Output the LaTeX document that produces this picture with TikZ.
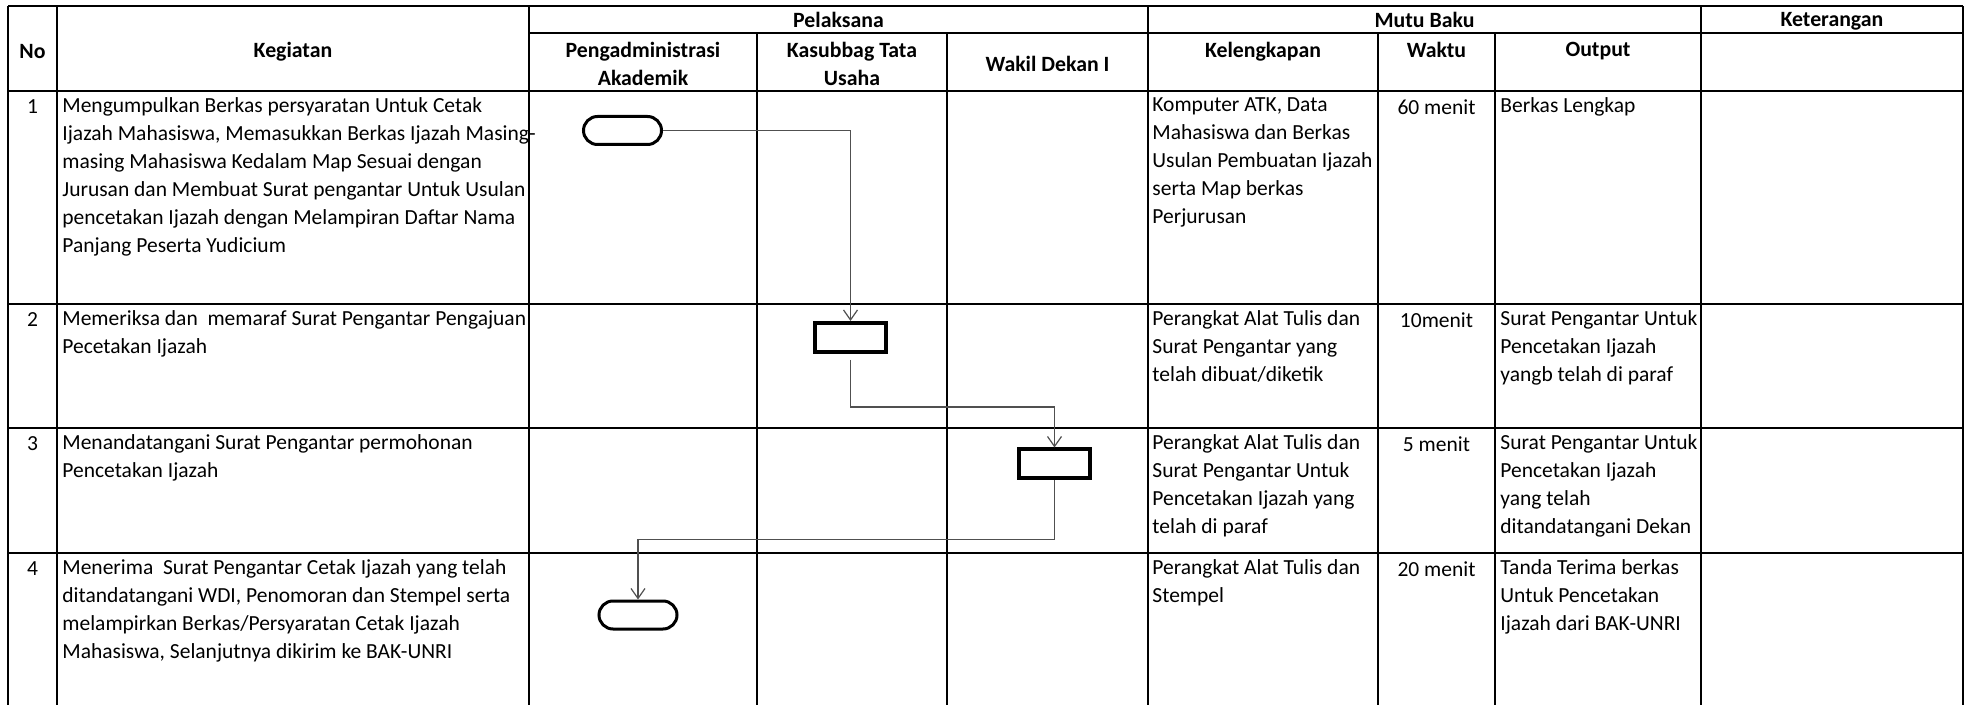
\documentclass[tikz,border=0pt]{standalone}
\usepackage{fontspec}
\setmainfont{Carlito}
\usetikzlibrary{arrows.meta,shapes.misc,positioning}
\definecolor{flowgray}{RGB}{80,80,80}

\begin{document}
\begin{tikzpicture}[
    x=0.5pt, y=-0.5pt,
    grid/.style={line width=1.3pt, black},
    head/.style={font=\fontsize{10.9}{14}\selectfont\bfseries, align=center, inner sep=0pt, anchor=north},
    cell/.style={font=\fontsize{10.75}{14}\selectfont, align=left, inner sep=0pt, anchor=north west},
    num/.style={font=\fontsize{10.75}{14}\selectfont, inner sep=0pt, anchor=north},
    term/.style={rounded rectangle, draw, line width=1.5pt, minimum width=39pt, minimum height=14pt, inner sep=0pt},
    proc/.style={rectangle, draw, line width=2pt, minimum width=35.5pt, minimum height=14.5pt, inner sep=0pt},
    flow/.style={draw=flowgray, line width=0.6pt, -{Straight Barb[length=5pt,width=7pt]}}
]
\useasboundingbox (0,0) rectangle (1971,705);

% Table grid
\foreach \x in {8,57,529,1148,1701,1963} \draw[grid] (\x,6) -- (\x,705);
\foreach \x in {757,947,1378,1495} \draw[grid] (\x,33) -- (\x,705);
\draw[grid] (8,6) -- (1963,6);
\draw[grid] (529,33) -- (1963,33);
\foreach \y in {91,304,428,553} \draw[grid] (8,\y) -- (1963,\y);

% Header
\node[head] (hPelaksana) at (838.5,12) {Pelaksana};
\node[head] (hMutu) at (1424.5,12) {Mutu Baku};
\node[head] (hKet) at (1832,12) {Keterangan};
\node[head] (hNo) at (32.5,44) {No};
\node[head] (hKeg) at (293,42) {Kegiatan};
\node[head] (hAdm) at (643,42) {Pengadministrasi\\Akademik};
\node[head] (hKasub) at (852,42) {Kasubbag Tata\\Usaha};
\node[head] (hWd) at (1047.5,56) {Wakil Dekan I};
\node[head] (hLengkap) at (1263,42) {Kelengkapan};
\node[head] (hWaktu) at (1436.5,42) {Waktu};
\node[head] (hOut) at (1598,42) {Output};

% Row 1
\node[num] (no1) at (32.5,99) {1};
\node[cell] (keg1) at (62,97) {Mengumpulkan Berkas persyaratan Untuk Cetak\\Ijazah Mahasiswa, Memasukkan Berkas Ijazah Masing-\\masing Mahasiswa Kedalam Map Sesuai dengan\\Jurusan dan Membuat Surat pengantar Untuk Usulan\\pencetakan Ijazah dengan Melampiran Daftar Nama\\Panjang Peserta Yudicium};
\node[cell] (lengkap1) at (1152,97) {Komputer ATK, Data\\Mahasiswa dan Berkas\\Usulan Pembuatan Ijazah\\serta Map berkas\\Perjurusan};
\node[num] (waktu1) at (1436.5,99) {60 menit};
\node[cell] (out1) at (1500,97) {Berkas Lengkap};

% Row 2
\node[num] (no2) at (32.5,312) {2};
\node[cell] (keg2) at (62,310) {Memeriksa dan\ \ memaraf Surat Pengantar Pengajuan\\Pecetakan Ijazah};
\node[cell] (lengkap2) at (1152,310) {Perangkat Alat Tulis dan\\Surat Pengantar yang\\telah dibuat/diketik};
\node[num] (waktu2) at (1436.5,312) {10menit};
\node[cell] (out2) at (1500,310) {Surat Pengantar Untuk\\Pencetakan Ijazah\\yangb telah di paraf};

% Row 3
\node[num] (no3) at (32.5,436) {3};
\node[cell] (keg3) at (62,434) {Menandatangani Surat Pengantar permohonan\\Pencetakan Ijazah};
\node[cell] (lengkap3) at (1152,434) {Perangkat Alat Tulis dan\\Surat Pengantar Untuk\\Pencetakan Ijazah yang\\telah di paraf};
\node[num] (waktu3) at (1436.5,436) {5 menit};
\node[cell] (out3) at (1500,434) {Surat Pengantar Untuk\\Pencetakan Ijazah\\yang telah\\ditandatangani Dekan};

% Row 4
\node[num] (no4) at (32.5,561) {4};
\node[cell] (keg4) at (62,559) {Menerima\ \ Surat Pengantar Cetak Ijazah yang telah\\ditandatangani WDI, Penomoran dan Stempel serta\\melampirkan Berkas/Persyaratan Cetak Ijazah\\Mahasiswa, Selanjutnya dikirim ke BAK-UNRI};
\node[cell] (lengkap4) at (1152,559) {Perangkat Alat Tulis dan\\Stempel};
\node[num] (waktu4) at (1436.5,561) {20 menit};
\node[cell] (out4) at (1500,559) {Tanda Terima berkas\\Untuk Pencetakan\\Ijazah dari BAK-UNRI};

% Flow symbols
\node[term] (mulai) at (622.5,130.5) {};
\node[proc] (paraf) at (850.5,337.5) {};
\node[proc] (ttd) at (1054.5,464) {};
\node[term] (selesai) at (638,615) {};

% Connectors
\draw[flow] (mulai.east) -| (paraf.north);
\draw[flow, shorten <=3pt] (paraf.south) -- ++(0,53) -| (ttd.north);
\draw[flow] (ttd.south) -- ++(0,59) -| (selesai.north);

\end{tikzpicture}
\end{document}
